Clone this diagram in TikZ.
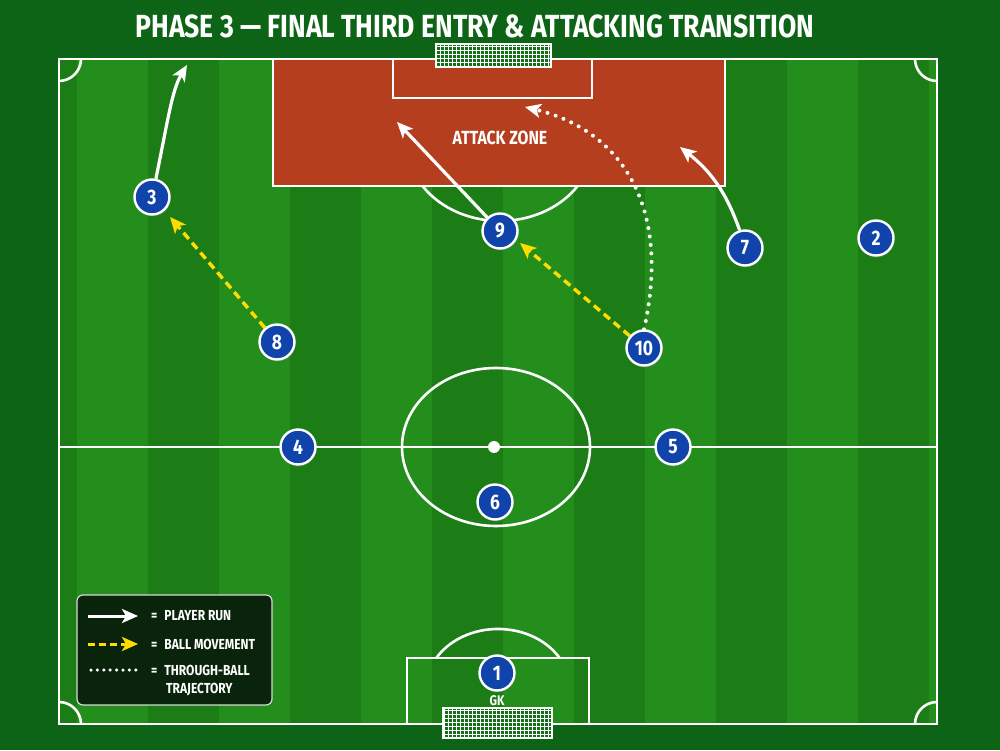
\documentclass[tikz,border=0pt]{standalone}
\usepackage{fontspec}
\setmainfont{Fira Sans}[FakeStretch=0.83]
\usetikzlibrary{arrows.meta,shadows}
\definecolor{outerbg}{RGB}{14,100,22}
\definecolor{stripeA}{RGB}{36,142,28}
\definecolor{stripeB}{RGB}{28,125,22}
\definecolor{zonered}{RGB}{180,62,30}
\definecolor{playerblue}{RGB}{16,68,170}
\definecolor{ballyellow}{RGB}{255,220,0}
\definecolor{legendbg}{RGB}{10,36,12}
\definecolor{netgreen}{RGB}{20,110,24}
\begin{document}
\begin{tikzpicture}[x=1pt,y=1pt,
  pitchline/.style={white,line width=2.6pt},
  pl/.style={circle,fill=playerblue,draw=white,line width=2.4pt,minimum size=35pt,inner sep=0pt,
    text=white,font=\fontsize{21}{23}\selectfont\bfseries,
    drop shadow={shadow xshift=1pt,shadow yshift=-2pt,opacity=0.35}},
  runarrow/.style={white,line width=3.2pt,-{Stealth[length=16pt,width=14pt,inset=4pt]}},
  ballarrow/.style={ballyellow,line width=3.4pt,dash pattern=on 8pt off 5pt,-{Stealth[length=16pt,width=14pt,inset=4pt]}},
  throughball/.style={white,line width=4pt,line cap=round,dash pattern=on 0pt off 8.5pt,-{Stealth[length=16pt,width=14pt,inset=4pt]}},
  lbl/.style={text=white,inner sep=0pt,font=\fontsize{14.5}{16}\selectfont\bfseries}]
\useasboundingbox (0,0) rectangle (1000,750);
\fill[outerbg] (0,0) rectangle (1000,750);
% stripes
\begin{scope}
\clip (59,26) rectangle (937,691);
\fill[stripeA] (59,26) rectangle (937,691);
\foreach \k in {-1,0,...,5} {\fill[stripeB] ({148+142*\k},26) rectangle ++(71,665);}
\end{scope}
% attack zone
\fill[zonered] (273,564) rectangle (725,691);
% pitch lines
\draw[pitchline] (59,26) rectangle (937,691);
\draw[pitchline] (59,303) -- (937,303);
\draw[pitchline] (496,303) ellipse[x radius=94,y radius=79];
\fill[white] (494,303) circle[radius=6];
\draw[pitchline] (273,564) rectangle (725,691);
\draw[pitchline] (393,652) rectangle (592,691);
\draw[pitchline] (422.5,564) arc[start angle=213.5,end angle=326.5,x radius=93,y radius=78];
\draw[pitchline] (407,26) rectangle (589,92);
\draw[pitchline] (559.6,92) arc[start angle=31.1,end angle=148.9,x radius=72,y radius=60];
\draw[pitchline] (81,691) arc[start angle=0,end angle=-90,radius=22];
\draw[pitchline] (915,691) arc[start angle=180,end angle=270,radius=22];
\draw[pitchline] (81,26) arc[start angle=0,end angle=90,radius=22];
\draw[pitchline] (915,26) arc[start angle=180,end angle=90,radius=22];
% nets
\fill[netgreen] (436,683) rectangle (551,706);
\draw[white,line width=0.5pt,step=4] (436,683) grid (551,706);
\draw[white,line width=2.5pt] (436,683) rectangle (551,706);
\fill[netgreen] (443,12) rectangle (552,42);
\draw[white,line width=0.5pt,step=4] (443,12) grid (552,42);
\draw[white,line width=2.5pt] (443,12) rectangle (552,42);
% title
\node[text=white,inner sep=0pt,font=\fontsize{32}{36}\selectfont\bfseries] (title) at (475,724) {PHASE 3 — FINAL THIRD ENTRY \& ATTACKING TRANSITION};
\node[text=white,inner sep=0pt,font=\fontsize{19}{21}\selectfont\bfseries] (zone) at (500,612) {ATTACK ZONE};
% players
\node[pl] (p1) at (497,77) {1};
\node[pl] (p2) at (876,512) {2};
\node[pl] (p3) at (152,553) {3};
\node[pl] (p4) at (298,303) {4};
\node[pl] (p5) at (673,303) {5};
\node[pl] (p6) at (495,248) {6};
\node[pl] (p7) at (745,502) {7};
\node[pl] (p8) at (277,408) {8};
\node[pl] (p9) at (500,519) {9};
\node[pl] (p10) at (644,402) {10};
\node[text=white,inner sep=0pt,font=\fontsize{14}{15}\selectfont\bfseries] (gk) at (497,49) {GK};
% target coordinates
\coordinate (t3) at (187,685);
\coordinate (t9) at (397,628);
\coordinate (t7) at (680,603);
\coordinate (t8) at (170,533);
\coordinate (t10) at (520,507);
\coordinate (t10b) at (525,643);
% movements
\draw[runarrow] (p3.78) .. controls (168,630) and (172,660) .. (t3);
\draw[runarrow] (p9) -- (t9);
\draw[runarrow] (p7) to[bend right=16] (t7);
\draw[ballarrow] (p8) -- (t8);
\draw[ballarrow] (p10) -- (t10);
\draw[throughball] (p10.north) .. controls (672,545) and (620,620) .. (t10b);
% legend
\draw[fill=legendbg,draw=white!85!black,line width=1.2pt,rounded corners=6pt] (77,45) rectangle (272,155);
\coordinate (la1) at (88,134); \coordinate (lb1) at (138,134);
\coordinate (la2) at (88,106); \coordinate (lb2) at (138,106);
\coordinate (la3) at (91,80);  \coordinate (lb3) at (136,80);
\draw[runarrow,line width=3pt] (la1) -- (lb1);
\draw[ballarrow,line width=3pt,dash pattern=on 7pt off 4pt] (la2) -- (lb2);
\draw[white,line width=3.5pt,line cap=round,dash pattern=on 0pt off 6.4pt] (la3) -- (lb3);
\node[lbl,anchor=west] (l1) at (151,134) {=\hspace{7pt}PLAYER RUN};
\node[lbl,anchor=west] (l2) at (151,106) {=\hspace{7pt}BALL MOVEMENT};
\node[lbl,anchor=west] (l3) at (151,80) {=\hspace{7pt}THROUGH-BALL};
\node[lbl,anchor=west] (l4) at (166,60) {TRAJECTORY};
\end{tikzpicture}
\end{document}
